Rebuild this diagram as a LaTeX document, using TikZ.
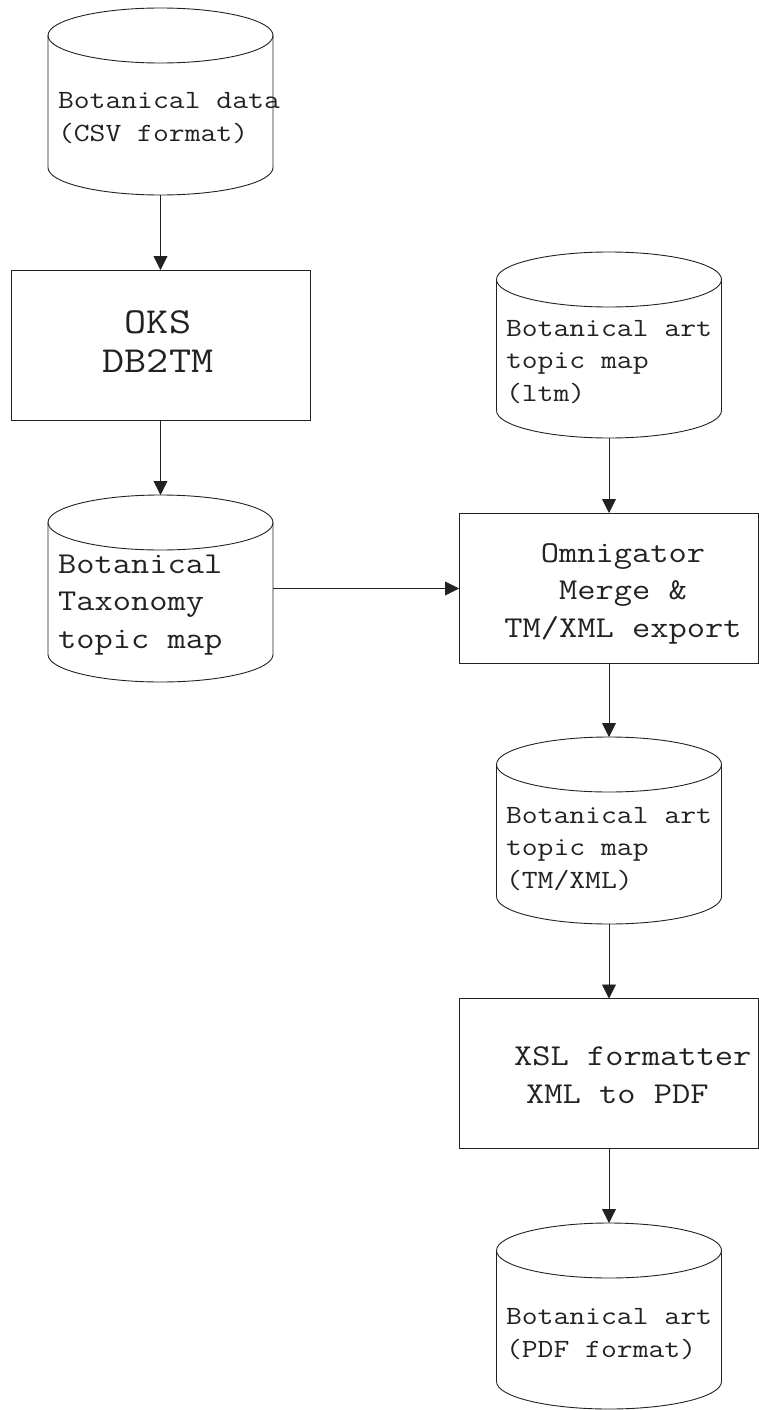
\documentclass[tikz,border=0pt]{standalone}
\usepackage{fontspec}
\newfontfamily\courfont[FakeStretch=1.17]{Latin Modern Mono}
\usetikzlibrary{arrows.meta}
\definecolor{ink}{HTML}{222222}
\newcommand\mycyl[4]{% name, cx, top, bottom
  \node[anchorbox, minimum width=225pt, minimum height={(#4-#3)*1pt}] (#1) at ({#2},{(#3+#4)/2}) {};
  \draw[cylline] ({#2},{#3+27.5}) ellipse [x radius=112.5pt, y radius=27.5pt];
  \draw[cylline] ({#2-112.5},{#3+27.5}) -- ({#2-112.5},{#4-27.5})
     arc[start angle=180, end angle=360, x radius=112.5pt, y radius=27.5pt]
     -- ({#2+112.5},{#3+27.5});
}
\begin{document}
\begin{tikzpicture}[x=1pt,y=-1pt,
  line width=0.9pt,
  cylline/.style={draw=ink},
  anchorbox/.style={inner sep=0pt, outer sep=0pt, draw=none, rectangle},
  boxnode/.style={draw=ink, rectangle, inner sep=0pt, outer sep=0pt, minimum width=299pt, minimum height=150pt},
  flow/.style={draw=ink, -{Triangle[length=14pt,width=14pt]}},
  lbl/.style={inner sep=0pt, outer sep=0pt, text=ink},
  smalltxt/.style={lbl, align=left, anchor=base west, font=\courfont\fontsize{26.3}{32.5}\selectfont},
  midtxt/.style={lbl, font=\courfont\fontsize{30.3}{37.5}\selectfont},
  bigtxt/.style={lbl, font=\courfont\fontsize{36.7}{39}\selectfont}]
\fill[white] (0,0) rectangle (759,1410);
\useasboundingbox (0,0) rectangle (759,1410);

% cylinders
\mycyl{c1}{160.5}{8}{195}
\mycyl{c2}{160.5}{495}{682}
\mycyl{c3}{609}{252}{438}
\mycyl{c4}{609}{737}{924}
\mycyl{c5}{609}{1223}{1409}

% boxes
\node[boxnode] (b1) at (160.5,345) {};
\node[boxnode] (b2) at (608.5,588) {};
\node[boxnode] (b3) at (608.5,1073.5) {};

% labels (base anchor = baseline of the last line)
\node[smalltxt] (t1) at (58,141) {Botanical data\\(CSV format)};
\node[bigtxt, align=center, anchor=base] (t2) at (158,372) {OKS\\DB2TM};
\node[midtxt, align=left, anchor=base west] (t3) at (58,648) {Botanical\\Taxonomy\\topic map};
\node[smalltxt] (t4) at (506,401) {Botanical art\\topic map\\(ltm)};
\node[midtxt, align=center, anchor=base] (t5) at (623,637) {Omnigator\\Merge \&\\TM/XML export};
\node[smalltxt] (t6) at (506,888) {Botanical art\\topic map\\(TM/XML)};
\node[midtxt, align=left, anchor=base west] (t7) at (514,1103) {XSL formatter\\\hspace*{12pt}XML to PDF};
\node[smalltxt] (t8) at (506,1357) {Botanical art\\(PDF format)};

% connectors
\draw[flow] (c1.south) -- (c1.south |- b1.north);
\draw[flow] (b1.south) -- (b1.south |- c2.north);
\draw[flow] (c2.east) -- (c2.east -| b2.west);
\draw[flow] (c3.south) -- (c3.south |- b2.north);
\draw[flow] (c3.south |- b2.south) -- (c3.south |- c4.north);
\draw[flow] (c4.south) -- (c4.south |- b3.north);
\draw[flow] (c4.south |- b3.south) -- (c4.south |- c5.north);
\end{tikzpicture}
\end{document}
